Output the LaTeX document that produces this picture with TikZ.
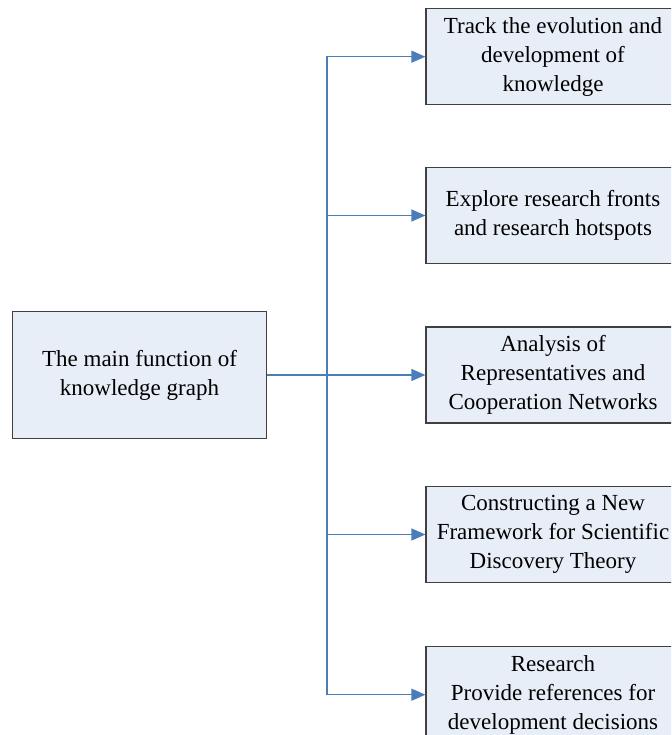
\documentclass[tikz,border=0pt]{standalone}
\usepackage{fontspec}
\setmainfont{Liberation Serif}
\usetikzlibrary{arrows.meta}
\definecolor{boxfill}{HTML}{E8EEF7}
\definecolor{boxline}{HTML}{404040}
\definecolor{conncol}{HTML}{4A7EBB}
\tikzset{
  fbox/.style={draw=boxline, line width=0.9pt, fill=boxfill, rectangle, align=center,
    minimum width=190.5pt, minimum height=72pt, inner sep=0pt,
    font=\fontsize{17.25}{21.75}\selectfont},
  conn/.style={draw=conncol, line width=0.9pt, -{Triangle[length=10.5pt,width=9pt]}},
}
\begin{document}
\begin{tikzpicture}[x=0.75pt,y=-0.75pt]
\useasboundingbox (0,0) rectangle (671,735);
\clip (0,0) rectangle (671,735);
\node[fbox, minimum width=190.8pt, minimum height=95pt] (main) at (139.5,375) {The main function of\\knowledge graph};
\node[fbox] (b1) at (553,56.7) {Track the evolution and\\development of\\knowledge};
\node[fbox] (b2) at (553,215.5) {Explore research fronts\\and research hotspots};
\node[fbox] (b3) at (553,375) {Analysis of\\Representatives and\\Cooperation Networks};
\node[fbox] (b4) at (553,534.5) {Constructing a New\\Framework for Scientific\\Discovery Theory};
\node[fbox] (b5) at (553,694.7) {Research\\Provide references for\\development decisions};
\coordinate (j) at (327,375);
\foreach \b in {b1,b2,b3,b4,b5}{
  \draw[conn] (main.east) -- (j) |- (\b.west);
}
\end{tikzpicture}
\end{document}
